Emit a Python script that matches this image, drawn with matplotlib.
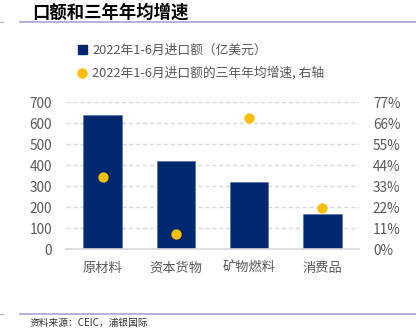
import matplotlib
matplotlib.use("Agg")
import matplotlib.pyplot as plt
from matplotlib.lines import Line2D
from matplotlib.ticker import FuncFormatter

plt.rcParams['font.family'] = ['Noto Sans CJK SC', 'DejaVu Sans']

# data
categories = ["原材料", "资本货物", "矿物燃料", "消费品"]
import_value = [640, 422, 319, 167]          # 亿美元
growth_3y = [37.9, 7.9, 68.7, 21.5]          # %, right axis

left_ticks = [0, 100, 200, 300, 400, 500, 600, 700]
right_ticks = [0, 11, 22, 33, 44, 55, 66, 77]

title = "口额和三年年均增速"
label_bar = "2022年1-6月进口额（亿美元）"
label_dot = "2022年1-6月进口额的三年年均增速, 右轴"
source = "资料来源：CEIC，浦银国际"

bar_color = "#002870"
dot_color = "#FFC000"
grid_color = "#d9d9d9"
tick_color = "#595959"
rule_color = "#a6a6cf"

W, H = 416, 332
fig = plt.figure(figsize=(W / 100, H / 100), dpi=100)

ax = fig.add_axes([66 / W, 1 - 249.3 / H, 293 / W, 147 / H])
x = list(range(len(categories)))
bars = ax.bar(x, import_value, width=0.525, color=bar_color,
              edgecolor="#4a68a8", linewidth=0.4, zorder=2)
ax.set_xlim(-0.5, len(categories) - 0.5)
ax.set_ylim(left_ticks[0], left_ticks[-1])
ax.set_yticks(left_ticks)
ax.set_xticks(x)
ax.set_xticklabels(categories, color=tick_color, fontsize=9.5)
ax.tick_params(axis="x", length=0, pad=9)
ax.tick_params(axis="y", length=0, pad=10, labelsize=9.8, labelcolor=tick_color)
ax.grid(axis="y", color=grid_color, linestyle=(0, (3, 2)), linewidth=1, zorder=0)
for s in ["top", "left", "right"]:
    ax.spines[s].set_visible(False)
ax.spines["bottom"].set_color(grid_color)
ax.spines["bottom"].set_linewidth(1.2)

ax2 = ax.twinx()
ax2.set_ylim(right_ticks[0], right_ticks[-1])
ax2.set_yticks(right_ticks)
ax2.yaxis.set_major_formatter(FuncFormatter(lambda v, p: f"{v:.0f}%"))
ax2.tick_params(axis="y", length=0, pad=10, labelsize=9.8, labelcolor=tick_color)
dots = ax2.scatter(x, growth_3y, s=55, color=dot_color, zorder=3, linewidths=0)
for s in ax2.spines.values():
    s.set_visible(False)

handles = [
    plt.Rectangle((0, 0), 1, 1, color=bar_color),
    Line2D([], [], marker="o", linestyle="none", color=dot_color,
           markersize=7.5, markeredgewidth=0),
]
fig.legend(handles, [label_bar, label_dot], loc="upper left",
           bbox_to_anchor=(78 / W, 1 - 44 / H), frameon=False,
           fontsize=9.2, labelcolor=tick_color, handlelength=0.7,
           handleheight=0.7, handletextpad=0.4, labelspacing=0.75,
           borderpad=0, borderaxespad=0)

fig.text(32 / W, 1 - 12.5 / H, title, fontsize=12.5, fontweight="bold",
         va="center", ha="left")
fig.add_artist(Line2D([20 / W, 1], [1 - 22 / H] * 2, color=rule_color, linewidth=1.2))
fig.add_artist(Line2D([20 / W, 1], [1 - 314 / H] * 2, color=rule_color, linewidth=1.2))
fig.add_artist(Line2D([0, 3 / W], [1 - 22 / H] * 2, color="#bbbbbb", linewidth=1))
fig.add_artist(Line2D([0, 3 / W], [1 - 314 / H] * 2, color="#bbbbbb", linewidth=1))
fig.text(30 / W, 1 - 323 / H, source, fontsize=7, va="center", ha="left",
         color="#333333")

fig.savefig("out.png", dpi=100)
